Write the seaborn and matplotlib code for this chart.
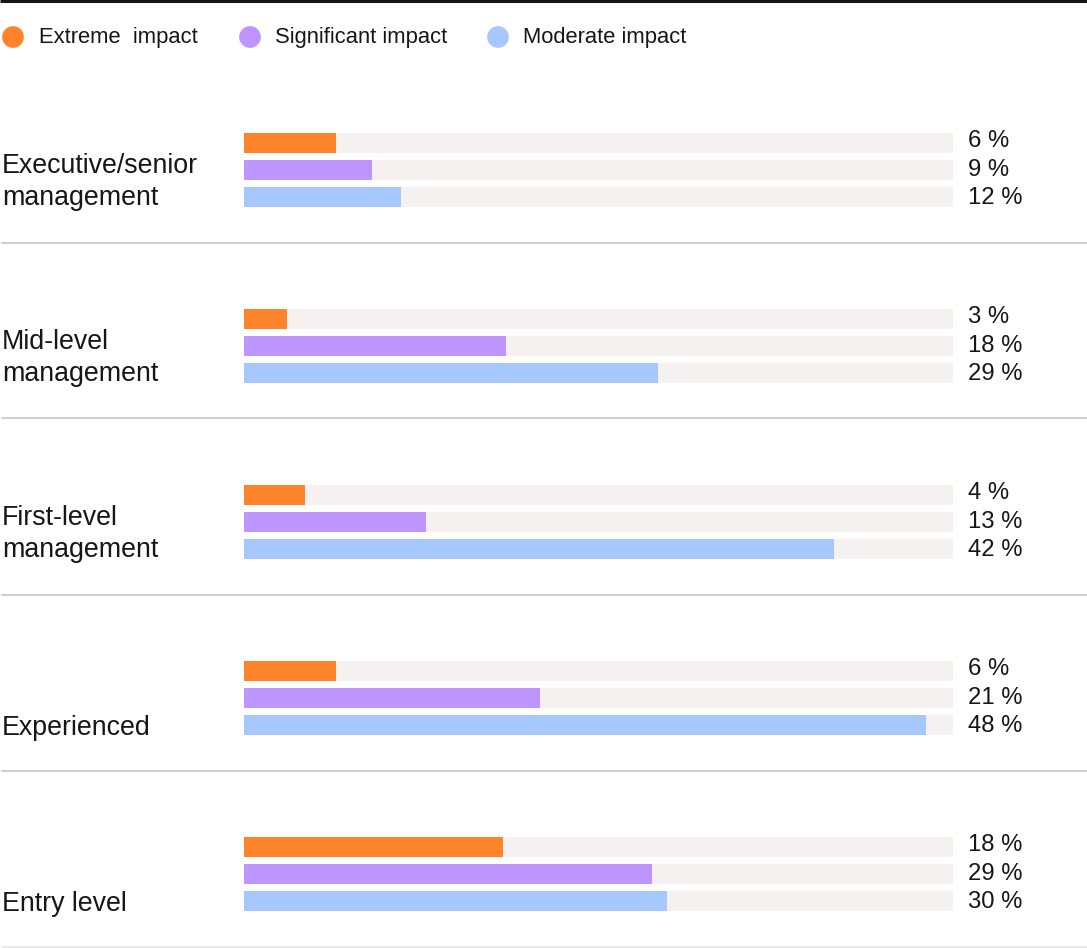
import matplotlib
matplotlib.use("Agg")
import matplotlib.pyplot as plt
import seaborn as sns
import pandas as pd

# ---- data ----
groups = ["Executive/senior\nmanagement", "Mid-level\nmanagement",
          "First-level\nmanagement", "Experienced", "Entry level"]
levels = ["Extreme  impact", "Significant impact", "Moderate impact"]
extreme = [6.5, 3.0, 4.3, 6.5, 18.3]
significant = [9.0, 18.5, 12.8, 20.9, 28.8]
moderate = [11.1, 29.2, 41.6, 48.1, 29.8]
extreme_lbl = ["6 %", "3 %", "4 %", "6 %", "18 %"]
significant_lbl = ["9 %", "18 %", "13 %", "21 %", "29 %"]
moderate_lbl = ["12 %", "29 %", "42 %", "48 %", "30 %"]
track_max = 50

colors = ["#FF832B", "#BE95FF", "#A6C8FF"]
track_color = "#F5F1F0"

sns.set_theme(style="white")
plt.rcParams["font.family"] = ["Liberation Sans", "DejaVu Sans"]

W, H = 1087, 948
fig = plt.figure(figsize=(W / 100, H / 100), dpi=100)

bar_left, bar_right = 244, 953
pitch = 27
y0s = [143, 319, 495, 671, 847]

for g, name in enumerate(groups):
    y0 = y0s[g]
    top = y0 - pitch / 2
    bottom = y0 + 2 * pitch + pitch / 2
    ax = fig.add_axes([bar_left / W, 1 - bottom / H,
                       (bar_right - bar_left) / W, (bottom - top) / H])
    df = pd.DataFrame({
        "level": levels,
        "value": [extreme[g], significant[g], moderate[g]],
        "label": [extreme_lbl[g], significant_lbl[g], moderate_lbl[g]],
        "track": [track_max] * 3,
    })
    sns.barplot(data=df, x="track", y="level", color=track_color,
                width=20 / pitch, ax=ax, saturation=1,
                linewidth=0, edgecolor="none")
    sns.barplot(data=df, x="value", y="level", hue="level",
                palette=colors, width=20 / pitch, ax=ax,
                legend=False, saturation=1, linewidth=0, edgecolor="none")
    ax.set_xlim(0, track_max)
    ax.set_ylim(2.5, -0.5)
    ax.axis("off")
    for i, lbl in enumerate(df["label"]):
        ax.annotate(lbl, xy=(track_max, i), xytext=(15, 2 - 1.5 * i),
                    textcoords="offset pixels", va="center", ha="left",
                    fontsize=17.2, color="#161616", annotation_clip=False)

# overlay for decorations
ov = fig.add_axes([0, 0, 1, 1], facecolor="none")
ov.set_xlim(0, W)
ov.set_ylim(H, 0)
ov.axis("off")

ov.plot([0, W], [1, 1], color="#161616", lw=2.2, solid_capstyle="butt")
for y in [243, 418, 595, 771]:
    ov.plot([2, W], [y, y], color="#C6C6C6", lw=1.2)
ov.plot([2, W], [947, 947], color="#E6E6E6", lw=1.2)

leg_circle_x = [13, 250, 498]
leg_text_x = [39, 275, 523]
for cx, tx, lv, c in zip(leg_circle_x, leg_text_x, levels, colors):
    ov.scatter([cx], [37], s=245, color=c, edgecolor="none")
    ov.text(tx, 37, lv, va="center", ha="left", fontsize=15.8, color="#161616")

for g, name in enumerate(groups):
    off = 16 if "\n" not in name else 14
    ov.text(2, y0s[g] + 2 * pitch + off, name, va="bottom", ha="left",
            fontsize=19.3, color="#161616", linespacing=1.32)

fig.savefig("out.png", dpi=100, facecolor="white")
